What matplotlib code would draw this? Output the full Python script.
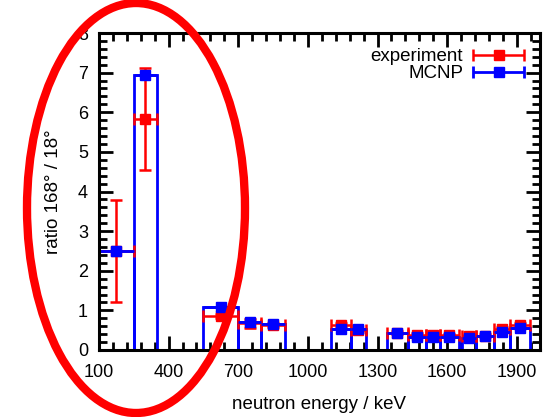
import numpy as np
import matplotlib
matplotlib.use("Agg")
import matplotlib.pyplot as plt
from matplotlib.ticker import MultipleLocator
from matplotlib.patches import Ellipse
from matplotlib.legend_handler import HandlerErrorbar

plt.rcParams['font.family'] = ['Liberation Sans', 'DejaVu Sans']

# bins (keV)
bin_lo = [100, 250, 550, 700, 800, 1100, 1185, 1340, 1430, 1510, 1570, 1665, 1725, 1800, 1870]
bin_hi = [250, 350, 700, 800, 900, 1185, 1250, 1430, 1510, 1570, 1650, 1725, 1800, 1870, 1955]
mcnp = [2.50, 6.93, 1.08, 0.70, 0.65, 0.53, 0.52, 0.42, 0.34, 0.33, 0.33, 0.30, 0.36, 0.46, 0.55]
experiment = [2.50, 5.83, 0.87, 0.67, 0.63, 0.63, 0.50, 0.44, 0.38, 0.38, 0.37, 0.35, 0.36, 0.53, 0.62]
experiment_err = [1.29, 1.28, 0.05, 0.11, 0.05, 0.05, 0.04, 0.04, 0.04, 0.04, 0.04, 0.04, 0.04, 0.05, 0.05]

x_ticks = [100, 400, 700, 1000, 1300, 1600, 1900]

lo = np.array(bin_lo, float)
hi = np.array(bin_hi, float)
centers = (lo + hi) / 2
half = (hi - lo) / 2

fig = plt.figure(figsize=(5.48, 4.17), dpi=100)
ax = fig.add_axes([99/548, 1 - 350/417, (540-99)/548, (350-33)/417])

RED = '#ff0000'
BLUE = '#0000ff'

# MCNP boxes
ax.bar(lo, mcnp, width=hi - lo, align='edge', fill=False, edgecolor=BLUE,
       linewidth=2.0, zorder=2)

c_exp = ax.errorbar(centers, experiment, xerr=half, yerr=experiment_err, fmt='s',
                    color=RED, ms=6.8, elinewidth=1.8, capsize=4, capthick=1.8,
                    label='experiment', zorder=3)
ax.errorbar(centers, mcnp, xerr=half, fmt='s', color=BLUE, ms=6.8,
            elinewidth=2.0, capsize=0, zorder=4)
# legend proxy for MCNP (with caps, like the reference key)
c_mc = ax.errorbar([np.nan], [np.nan], xerr=[1.0], fmt='s', color=BLUE, ms=6.8,
                   elinewidth=2.0, capsize=4, capthick=2.0, label='MCNP')

ax.set_xlim(100, 2000)
ax.set_ylim(0, 8)
ax.xaxis.set_major_locator(MultipleLocator(300, offset=100))
ax.xaxis.set_minor_locator(MultipleLocator(60, offset=100))
ax.yaxis.set_major_locator(MultipleLocator(1))
ax.yaxis.set_minor_locator(MultipleLocator(0.2))
ax.set_xticks(x_ticks)

for s in ax.spines.values():
    s.set_linewidth(2.2)
    s.set_zorder(5)
ax.tick_params(which='both', direction='in', top=True, right=True, width=2.0,
               labelsize=13)
ax.tick_params(which='major', length=10)
ax.tick_params(which='minor', length=5.5)
ax.tick_params(axis='x', pad=10)
ax.tick_params(axis='y', pad=8)

ax.set_xlabel('neutron energy / keV', fontsize=13.5, labelpad=11)
ax.set_ylabel('ratio 168° / 18°', fontsize=13.5, labelpad=11)

# legend: horizontal error bars only
c_exp.has_yerr = False
leg = ax.legend(handles=[c_exp, c_mc], loc='upper right', frameon=False,
                markerfirst=False, fontsize=13.5, handlelength=2.8,
                handletextpad=0.5, labelspacing=0.0, borderaxespad=0.4,
                handler_map={type(c_mc): HandlerErrorbar(xerr_size=1.35)})

# red annotation ellipse
ell = Ellipse((136/548, 1 - 208/417), 218/548, 410/417, transform=fig.transFigure,
              fill=False, edgecolor=RED, linewidth=6, zorder=10)
fig.add_artist(ell)

fig.savefig('out.png', dpi=100)
